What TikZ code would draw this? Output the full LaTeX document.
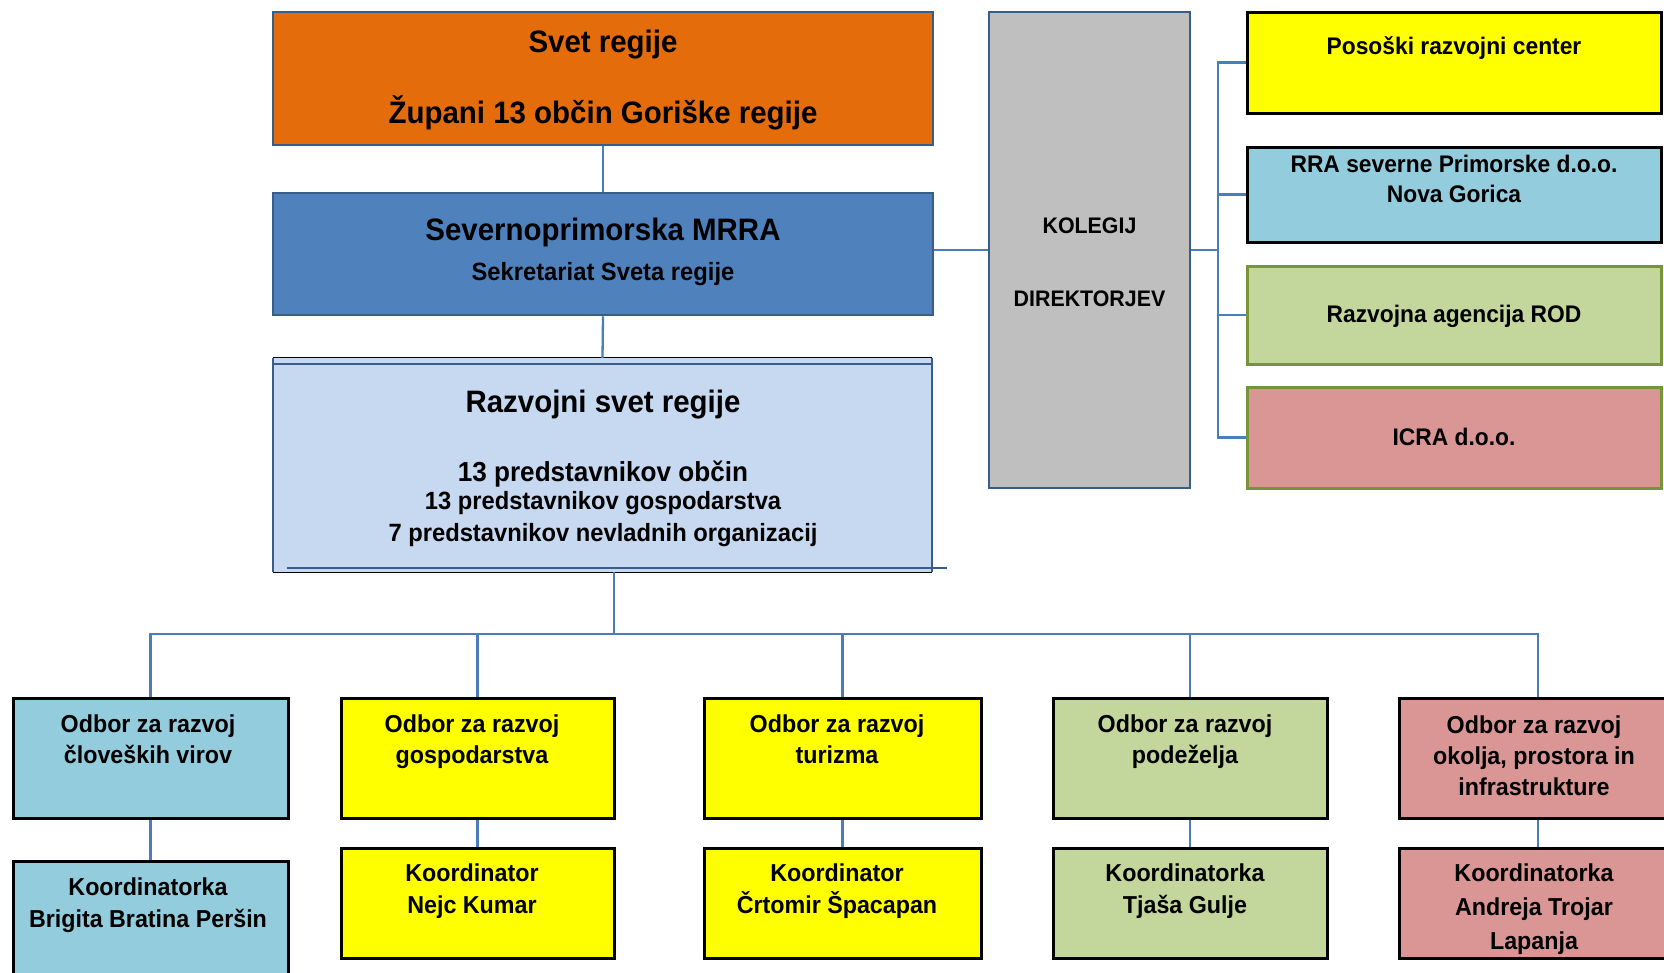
\documentclass[tikz,border=0pt]{standalone}
\usepackage{fontspec}
\setmainfont{Liberation Sans}[FakeStretch=0.95]
\definecolor{orangeC}{HTML}{E46C0A}
\definecolor{mrraC}{HTML}{4F81BD}
\definecolor{razC}{HTML}{C6D9F1}
\definecolor{grayC}{HTML}{BFBFBF}
\definecolor{yelC}{HTML}{FFFF00}
\definecolor{ltblueC}{HTML}{93CDDD}
\definecolor{ltgreenC}{HTML}{C3D69B}
\definecolor{pinkC}{HTML}{D99694}
\definecolor{bordblue}{HTML}{385D8A}
\definecolor{olivegrn}{HTML}{77933C}
\definecolor{connblue}{HTML}{4A7EBB}
\newcommand\myfs[2]{\fontsize{#1}{#2}\selectfont\bfseries}
\tikzset{
  bluebox/.style={rectangle, inner sep=0pt, line width=2.5pt, draw=bordblue},
  blkbox/.style={rectangle, inner sep=0pt, line width=3pt, draw=black},
  grnbox/.style={rectangle, inner sep=0pt, line width=3pt, draw=olivegrn},
  conn/.style={draw=connblue, line width=2.3pt},
  txt/.style={align=center, inner sep=0pt},
  upbox/.style={minimum height=120pt},
  lowbox/.style={minimum height=110pt},
  bordline/.style={draw=bordblue, line width=2.5pt},
  thinblk/.style={draw=black, line width=1.3pt},
}
\begin{document}
\begin{tikzpicture}[x=1pt,y=-1pt]
\useasboundingbox[fill=white] (0,0) rectangle (1664,972);
% top column
\node[bluebox, fill=orangeC, minimum width=660pt, minimum height=133pt] (svet) at (603,78.5) {};
\node[bluebox, fill=mrraC, minimum width=660pt, minimum height=122pt] (mrra) at (603,254) {};
\node[rectangle, inner sep=0pt, fill=razC, minimum width=659pt, minimum height=214pt] (raz) at (602.5,465) {};
\draw[thinblk] (raz.north west) -- (raz.north east);
\draw[thinblk] (raz.south west) -- (raz.south east);
\draw[bordline] ([yshift=-6pt]raz.north west) -- ([yshift=-6pt]raz.north east);
\draw[bordline] ([xshift=14pt,yshift=4pt]raz.south west) -- ([xshift=15pt,yshift=4pt]raz.south east);
\draw[bordline] (raz.north west) -- (raz.south west);
\draw[bordline] (raz.north east) -- (raz.south east);

\node[txt, font=\myfs{31}{36}] (t1) at (603,45) {Svet regije};
\node[txt, font=\myfs{31}{36}] (t2) at (603,113) {Župani 13 občin Goriške regije};
\node[txt, font=\myfs{31}{36}] (t3) at (603,232) {Severnoprimorska MRRA};
\node[txt, font=\myfs{25}{30}] (t4) at (603,274) {Sekretariat Sveta regije};
\node[txt, font=\myfs{31}{36}] (t5) at (603,405) {Razvojni svet regije};
\node[txt, font=\myfs{27.5}{30}] (t6) at (603,474) {13 predstavnikov občin};
\node[txt, font=\myfs{25}{30}] (t7) at (603,503) {13 predstavnikov gospodarstva};
\node[txt, font=\myfs{25}{30}] (t8) at (603,535) {7 predstavnikov nevladnih organizacij};

% kolegij
\node[bluebox, fill=grayC, minimum width=201pt, minimum height=476pt] (kol) at (1089.5,250) {};
\node[txt, font=\myfs{22.5}{30}] (k1) at (1089.5,226) {KOLEGIJ};
\node[txt, font=\myfs{22.5}{30}] (k2) at (1089.5,299) {DIREKTORJEV};

% right column
\node[blkbox, fill=yelC, minimum width=414pt, minimum height=101pt] (r1) at (1454,62.5) {};
\node[blkbox, fill=ltblueC, minimum width=414pt, minimum height=95pt] (r2) at (1454,194.5) {};
\node[grnbox, fill=ltgreenC, minimum width=414pt, minimum height=98pt] (r3) at (1454,315) {};
\node[grnbox, fill=pinkC, minimum width=414pt, minimum height=101pt] (r4) at (1454,437.5) {};
\node[txt, font=\myfs{24}{30}] (rt1) at (1454,48) {Posoški razvojni center};
\node[txt, font=\myfs{24}{30}] (rt2) at (1454,179) {RRA severne Primorske d.o.o.\\Nova Gorica};
\node[txt, font=\myfs{24}{30}] (rt3) at (1454,316) {Razvojna agencija ROD};
\node[txt, font=\myfs{24}{30}] (rt4) at (1454,437) {ICRA d.o.o.};

% bottom row
\node[blkbox, upbox, fill=ltblueC, minimum width=275pt] (b1) at (150.5,758.5) {};
\node[blkbox, upbox, fill=yelC, minimum width=273pt] (b2) at (477.5,758.5) {};
\node[blkbox, upbox, fill=yelC, minimum width=277pt] (b3) at (842.5,758.5) {};
\node[blkbox, upbox, fill=ltgreenC, minimum width=274pt] (b4) at (1190,758.5) {};
\node[blkbox, upbox, fill=pinkC, minimum width=278pt] (b5) at (1538,758.5) {};
\node[blkbox, fill=ltblueC, minimum width=275pt, minimum height=124pt] (l1) at (150.5,923) {};
\node[blkbox, lowbox, fill=yelC, minimum width=273pt] (l2) at (477.5,903) {};
\node[blkbox, lowbox, fill=yelC, minimum width=277pt] (l3) at (842.5,903) {};
\node[blkbox, lowbox, fill=ltgreenC, minimum width=274pt] (l4) at (1190,903) {};
\node[blkbox, lowbox, fill=pinkC, minimum width=278pt] (l5) at (1538,903) {};

\node[txt, font=\myfs{24.5}{31}] (bt1) at (148,742) {\strut Odbor za razvoj\\\strut človeških virov};
\node[txt, font=\myfs{24.5}{31}] (bt2) at (472,742) {\strut Odbor za razvoj\\\strut gospodarstva};
\node[txt, font=\myfs{24.5}{31}] (bt3) at (837,742) {\strut Odbor za razvoj\\\strut turizma};
\node[txt, font=\myfs{24.5}{31}] (bt4) at (1185,742) {\strut Odbor za razvoj\\\strut podeželja};
\node[txt, font=\myfs{24.5}{31}] (bt5) at (1534,758) {\strut Odbor za razvoj\\\strut okolja, prostora in\\\strut infrastrukture};
\node[txt, font=\myfs{24.5}{32}] (lt1) at (148,905) {\strut Koordinatorka\\\strut Brigita Bratina Peršin};
\node[txt, font=\myfs{24.5}{32}] (lt2) at (472,891.5) {\strut Koordinator\\\strut Nejc Kumar};
\node[txt, font=\myfs{24.5}{32}] (lt3) at (837,891.5) {\strut Koordinator\\\strut Črtomir Špacapan};
\node[txt, font=\myfs{24.5}{32}] (lt4) at (1185,891.5) {\strut Koordinatorka\\\strut Tjaša Gulje};
\node[txt, font=\myfs{24.5}{34}] (lt5) at (1534,909) {\strut Koordinatorka\\\strut Andreja Trojar\\\strut Lapanja};

% connectors
\draw[conn] (svet.south) -- (mrra.north);
\draw[conn] (mrra.south) -- (raz.north);
\draw[conn] (kol.west -| mrra.east) -- (kol.west);
\coordinate (brk) at (1218,250);
\draw[conn] (kol.east) -- (brk);
\draw[conn] (r1.west) -| (brk |- r4.west) -- (r4.west);
\draw[conn] (r2.west) -- (r2.west -| brk);
\draw[conn] (r3.west) -- (r3.west -| brk);
\coordinate (bus) at (614,634);
\draw[conn] ([xshift=11.5pt]raz.south) -- (bus);
\draw[conn] (b1.north) |- (bus) -| (b5.north);
\foreach \b in {b2,b3,b4} \draw[conn] (\b.north) -- (\b.north |- bus);
\foreach \i in {1,...,5} \draw[conn] (b\i.south) -- (l\i.north);
\end{tikzpicture}
\end{document}
